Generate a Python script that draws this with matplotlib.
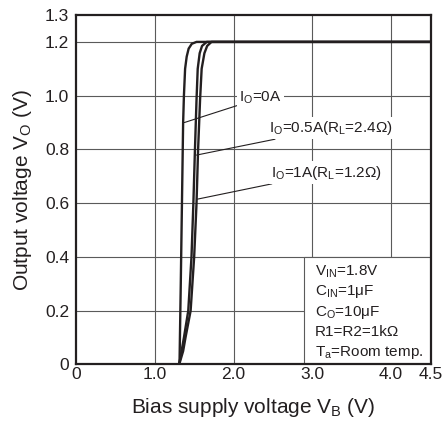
import matplotlib
matplotlib.use('Agg')
import matplotlib.pyplot as plt
from matplotlib.patches import Rectangle

plt.rcParams['font.family'] = ['Liberation Sans', 'DejaVu Sans']
plt.rcParams['mathtext.fontset'] = 'custom'
plt.rcParams['mathtext.rm'] = 'Liberation Sans'
plt.rcParams['mathtext.it'] = 'Liberation Sans'

# Output voltage vs bias supply voltage, three load conditions
vb_0a = [0, 1.31, 1.315, 1.33, 1.345, 1.36, 1.37, 1.385, 1.405, 1.43, 1.47, 1.53, 4.5]
vo_0a = [0, 0, 0.02, 0.3, 0.6, 0.9, 1.0, 1.1, 1.145, 1.175, 1.193, 1.2, 1.2]

vb_05a = [0, 1.31, 1.34, 1.37, 1.425, 1.466, 1.49, 1.51, 1.53, 1.545, 1.57, 1.60, 1.66, 4.5]
vo_05a = [0, 0, 0.05, 0.1, 0.2, 0.4, 0.6, 0.8, 0.985, 1.1, 1.158, 1.185, 1.2, 1.2]

vb_1a = [0, 1.31, 1.36, 1.39, 1.455, 1.50, 1.53, 1.55, 1.575, 1.595, 1.63, 1.665, 1.72, 4.5]
vo_1a = [0, 0, 0.05, 0.1, 0.2, 0.4, 0.6, 0.8, 0.985, 1.1, 1.158, 1.185, 1.2, 1.2]

x_ticks = [0, 1.0, 2.0, 3.0, 4.0, 4.5]
x_tick_labels = ['0', '1.0', '2.0', '3.0', '4.0', '4.5']
y_ticks = [0, 0.2, 0.4, 0.6, 0.8, 1.0, 1.2, 1.3]
y_tick_labels = ['0', '0.2', '0.4', '0.6', '0.8', '1.0', '1.2', '1.3']

conditions = [r'V$\mathregular{_{IN}}$=1.8V',
              r'C$\mathregular{_{IN}}$=1μF',
              r'C$\mathregular{_O}$=10μF',
              'R1=R2=1kΩ',
              r'T$\mathregular{_a}$=Room temp.']

ink = '#231f20'
grid_col = '#5a5a5a'

fig = plt.figure(figsize=(4.48, 4.23), dpi=100)
ax = fig.add_axes([0.1696, 0.1383, 0.7914, 0.8262])

for x in [1.0, 2.0, 3.0, 4.0]:
    ax.axvline(x, color=grid_col, lw=0.8, zorder=1)
for y in [0.2, 0.4, 0.6, 0.8, 1.0, 1.2]:
    ax.axhline(y, color=grid_col, lw=0.8, zorder=1)

ax.plot(vb_0a, vo_0a, color=ink, lw=1.7, zorder=3)
ax.plot(vb_05a, vo_05a, color=ink, lw=1.7, zorder=3)
ax.plot(vb_1a, vo_1a, color=ink, lw=1.7, zorder=3)

ax.set_xlim(0, 4.5)
ax.set_ylim(0, 1.3)
ax.set_xticks(x_ticks)
ax.set_xticklabels(x_tick_labels)
ax.set_yticks(y_ticks)
ax.set_yticklabels(y_tick_labels)
ax.tick_params(axis='both', length=0, labelsize=12.5, colors=ink)
ax.tick_params(axis='x', pad=2)
ax.tick_params(axis='y', pad=5)
for s in ax.spines.values():
    s.set_linewidth(1.6)
    s.set_color(ink)
    s.set_zorder(5)

ax.set_xlabel(r'Bias supply voltage V$\mathregular{_B}$ (V)', fontsize=15, color=ink, labelpad=10)
ax.set_ylabel(r'Output voltage V$\mathregular{_O}$ (V)', fontsize=15, color=ink, labelpad=8)

# curve labels with leader lines
labels = [
    (r'I$\mathregular{_O}$=0A', (1.375, 0.90), (2.07, 0.991)),
    (r'I$\mathregular{_O}$=0.5A(R$\mathregular{_L}$=2.4Ω)', (1.53, 0.779), (2.45, 0.880)),
    (r'I$\mathregular{_O}$=1A(R$\mathregular{_L}$=1.2Ω)', (1.54, 0.615), (2.48, 0.714)),
]
for txt, xy, xyt in labels:
    ax.annotate(txt, xy=xy, xytext=xyt, fontsize=11, color=ink,
                ha='left', va='center', zorder=4,
                bbox=dict(boxstyle='square,pad=0.15', fc='white', ec='none'),
                arrowprops=dict(arrowstyle='-', lw=0.8, color=ink,
                                shrinkA=0, shrinkB=0))

# test condition box
ax.add_patch(Rectangle((2.90, 0), 1.6, 0.4, fc='white', ec=grid_col, lw=0.8, zorder=2))
for i, c in enumerate(conditions):
    ax.text(3.03, 0.346 - i * 0.0755, c, fontsize=11, color=ink,
            ha='left', va='center', zorder=4)

fig.savefig('out.png', dpi=100)
